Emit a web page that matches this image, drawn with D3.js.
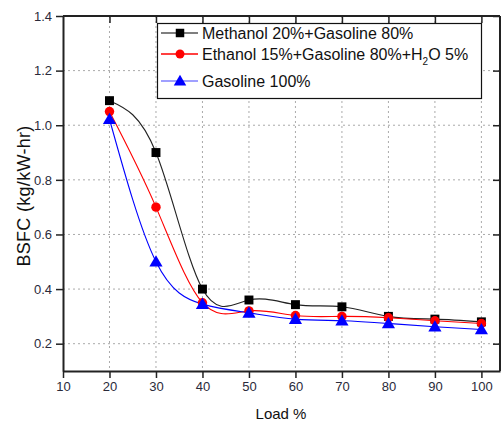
<!DOCTYPE html>
<html>
<head>
<meta charset="utf-8">
<script src="https://cdn.jsdelivr.net/npm/d3@7"></script>
<style>
  html, body { margin: 0; padding: 0; background: #fff; }
  svg { display: block; font-family: Arial, "Liberation Sans", sans-serif; }
</style>
</head>
<body>
<svg id="chart" width="501" height="424"></svg>
<script>
const loads = [20, 30, 40, 50, 60, 70, 80, 90, 100];
const methanol = [1.09, 0.90, 0.40, 0.36, 0.343, 0.335, 0.30, 0.29, 0.28];
const ethanol  = [1.05, 0.70, 0.35, 0.32, 0.303, 0.30, 0.295, 0.284, 0.274];
const gasoline = [1.022, 0.50, 0.345, 0.313, 0.29, 0.284, 0.274, 0.262, 0.252];
const seriesNames = ["Methanol 20%+Gasoline 80%", "Ethanol 15%+Gasoline 80%+H2O 5%", "Gasoline 100%"];
const xTicks = [10, 20, 30, 40, 50, 60, 70, 80, 90, 100];
const yTicks = [0.2, 0.4, 0.6, 0.8, 1.0, 1.2, 1.4];

const svg = d3.select("#chart");
const L = 63, R = 500, T = 16, B = 371;
const x = d3.scaleLinear().domain([10, 104]).range([L, R]);
const y = d3.scaleLinear().domain([0.1, 1.4]).range([B, T]);

// grid
const grid = svg.append("g");
grid.selectAll("line.gx").data(xTicks.filter(d => d > 10)).enter().append("line")
  .attr("x1", d => x(d)).attr("x2", d => x(d)).attr("y1", T).attr("y2", B)
  .attr("stroke", "#aaa").attr("stroke-width", 1).attr("stroke-dasharray", "2,3");
grid.selectAll("line.gy").data(yTicks.filter(d => d < 1.4)).enter().append("line")
  .attr("x1", L).attr("x2", R).attr("y1", d => y(d)).attr("y2", d => y(d))
  .attr("stroke", "#aaa").attr("stroke-width", 1).attr("stroke-dasharray", "2,3");

// axes
const axisColor = "#222";
const gx = svg.append("g").attr("transform", `translate(0,${B})`)
  .call(d3.axisBottom(x).tickValues(xTicks).tickSize(7).tickSizeOuter(0).tickPadding(4).tickFormat(d3.format("d")));
const gy = svg.append("g").attr("transform", `translate(${L},0)`)
  .call(d3.axisLeft(y).tickValues(yTicks).tickSize(7).tickSizeOuter(0).tickPadding(4).tickFormat(d3.format(".1f")));
const gt = svg.append("g").attr("transform", `translate(0,${T})`)
  .call(d3.axisBottom(x).tickValues(xTicks.filter(d => d > 10)).tickSize(7).tickSizeOuter(0).tickFormat(""));
const gr = svg.append("g").attr("transform", `translate(${R},0)`)
  .call(d3.axisRight(y).tickValues(yTicks).tickSize(-7).tickSizeOuter(0).tickFormat(""));
[gx, gy, gt, gr].forEach(g => {
  g.select(".domain").attr("stroke", axisColor).attr("stroke-width", 2);
  g.selectAll(".tick line").attr("stroke", axisColor).attr("stroke-width", 1.5);
  g.selectAll(".tick text").attr("fill", "#2a2a3a").attr("font-size", 13)
    .attr("font-family", "Arial, 'Liberation Sans', sans-serif");
});
gt.select(".domain").attr("d", `M${L},0H${R}`);
gr.select(".domain").attr("d", `M0,${T}V${B}`);

// axis titles
svg.append("text").attr("x", 281).attr("y", 419).attr("text-anchor", "middle")
  .attr("font-size", 15).attr("fill", "#111").text("Load %");
svg.append("text").attr("transform", "translate(30,196) rotate(-90)").attr("text-anchor", "middle")
  .attr("font-size", 18).attr("letter-spacing", 0.3).attr("fill", "#111").text("BSFC (kg/kW-hr)");

// series
const series = [
  { vals: methanol, line: "#222", fill: "#000", marker: "square" },
  { vals: ethanol, line: "#ff0000", fill: "#ff0000", marker: "circle" },
  { vals: gasoline, line: "#0000ff", fill: "#0000ff", marker: "triangle" }
];
const lineGen = d3.line().x(d => x(d[0])).y(d => y(d[1])).curve(d3.curveNatural);
const sym = { square: d3.symbolSquare, circle: d3.symbolCircle, triangle: d3.symbolTriangle };
const symSize = { square: 80, circle: 70, triangle: 75 };

series.forEach(s => {
  const pts = loads.map((l, i) => [l, s.vals[i]]);
  svg.append("path").attr("d", lineGen(pts)).attr("fill", "none")
    .attr("stroke", s.line).attr("stroke-width", 1.1);
});
series.forEach(s => {
  const pts = loads.map((l, i) => [l, s.vals[i]]);
  svg.append("g").selectAll("path").data(pts).enter().append("path")
    .attr("transform", d => `translate(${x(d[0])},${y(d[1]) + (s.marker === "triangle" ? 1 : 0)})`)
    .attr("d", d3.symbol().type(sym[s.marker]).size(symSize[s.marker]))
    .attr("fill", s.fill);
});

// legend
const lg = svg.append("g");
lg.append("rect").attr("x", 157.5).attr("y", 23.5).attr("width", 324).attr("height", 75)
  .attr("fill", "#fff").attr("stroke", "#111").attr("stroke-width", 1.2);
const legendRows = [
  { cy: 33, base: 39, line: "#555" },
  { cy: 54, base: 60, line: "#ff0000" },
  { cy: 81, base: 87, line: "#8080ff" }
];
legendRows.forEach((r, i) => {
  const s = series[i];
  lg.append("line").attr("x1", 161).attr("x2", 198).attr("y1", r.cy).attr("y2", r.cy)
    .attr("stroke", r.line).attr("stroke-width", 1.5);
  lg.append("path").attr("transform", `translate(180,${r.cy + (s.marker === "triangle" ? 1 : 0)})`)
    .attr("d", d3.symbol().type(sym[s.marker]).size(symSize[s.marker] * 0.9))
    .attr("fill", s.fill);
  const t = lg.append("text").attr("x", 202).attr("y", r.base).attr("font-size", 16).attr("fill", "#111");
  if (i === 1) {
    t.append("tspan").text("Ethanol 15%+Gasoline 80%+H");
    t.append("tspan").attr("font-size", 10).attr("dy", 5).text("2");
    t.append("tspan").attr("dy", -5).text("O 5%");
  } else {
    t.text(seriesNames[i]);
  }
});
</script>
</body>
</html>
